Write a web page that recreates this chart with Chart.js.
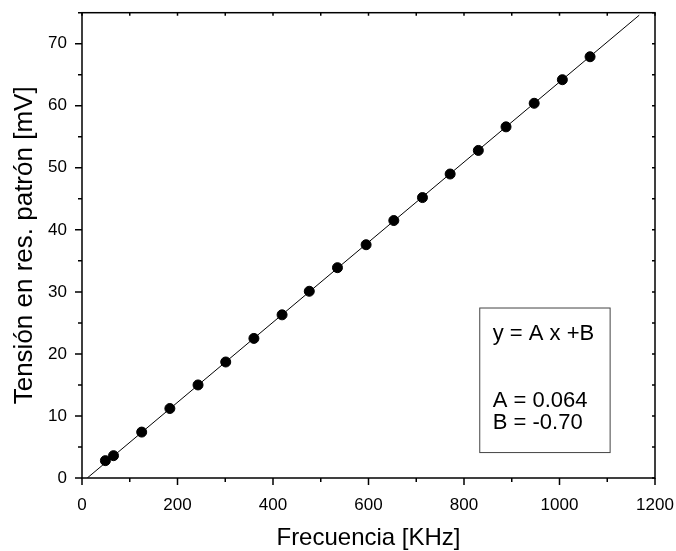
<!DOCTYPE html>
<html>
<head>
<meta charset="utf-8">
<script src="https://cdn.jsdelivr.net/npm/chart.js@4/dist/chart.umd.min.js"></script>
<style>
  body { margin: 0; background: #fff; }
  #wrap { width: 676px; height: 551px; position: relative; }
</style>
</head>
<body>
<div id="wrap"><canvas id="grafico"></canvas></div>
<script>
// Datos
const frecuencia = [49, 66, 125, 184, 243, 301, 360, 419, 476, 535, 595, 653, 713, 771, 830, 888, 947, 1006, 1064];
const tension = [2.8, 3.6, 7.4, 11.2, 15.0, 18.7, 22.5, 26.3, 30.1, 33.9, 37.6, 41.5, 45.2, 49.0, 52.8, 56.6, 60.4, 64.2, 67.9];
// recta de ajuste (extremos)
const ajusteX = [11, 1167];
const ajusteY = [0, 74.6];
// ticks
const xTicks = [0, 200, 400, 600, 800, 1000, 1200];
const yTicks = [0, 10, 20, 30, 40, 50, 60, 70];
const cuadroTexto = ['y = A x +B', '', 'A = 0.064', 'B = -0.70'];

const fuente = "'Liberation Sans', Arial, sans-serif";
Chart.defaults.color = '#000';
Chart.defaults.font.family = fuente;

// marco de ejes y marcas menores/mayores
const marco = {
  id: 'marco',
  afterDraw(chart) {
    const {ctx, chartArea: a, scales: {x, y}} = chart;
    ctx.save();
    ctx.strokeStyle = '#000';
    ctx.lineWidth = 1.5;
    ctx.strokeRect(a.left, a.top, a.right - a.left, a.bottom - a.top);
    ctx.beginPath();
    for (let v = 0; v <= 1200; v += 100) {
      const px = x.getPixelForValue(v);
      const len = v % 200 === 0 ? 7 : 4;
      ctx.moveTo(px, a.bottom); ctx.lineTo(px, a.bottom + len);
      ctx.moveTo(px, a.top); ctx.lineTo(px, a.top + 3);
    }
    for (let v = 0; v <= 75; v += 5) {
      const py = y.getPixelForValue(v);
      const len = v % 10 === 0 ? 7 : 4;
      ctx.moveTo(a.left, py); ctx.lineTo(a.left - len, py);
      ctx.moveTo(a.right, py); ctx.lineTo(a.right - 3, py);
    }
    ctx.stroke();

    // cuadro con la ecuacion
    const bx0 = x.getPixelForValue(833), bx1 = x.getPixelForValue(1106);
    const by0 = y.getPixelForValue(27.4), by1 = y.getPixelForValue(4.1);
    ctx.lineWidth = 1;
    ctx.strokeStyle = '#444';
    ctx.strokeRect(bx0, by0, bx1 - bx0, by1 - by0);
    ctx.fillStyle = '#000';
    ctx.font = '22px ' + fuente;
    ctx.textBaseline = 'alphabetic';
    const bases = [32, 0, 99, 121];
    cuadroTexto.forEach((t, i) => {
      if (t) ctx.fillText(t, bx0 + 13, by0 + bases[i]);
    });
    ctx.restore();
  }
};

new Chart(document.getElementById('grafico'), {
  type: 'scatter',
  data: {
    datasets: [{
      data: frecuencia.map((f, i) => ({x: f, y: tension[i]})),
      backgroundColor: '#000',
      borderColor: '#000',
      pointRadius: 5,
      pointHoverRadius: 5,
      order: 1
    }, {
      data: ajusteX.map((f, i) => ({x: f, y: ajusteY[i]})),
      showLine: true,
      borderColor: '#000',
      borderWidth: 1,
      pointRadius: 0,
      order: 2
    }]
  },
  options: {
    responsive: true,
    maintainAspectRatio: false,
    animation: false,
    events: [],
    layout: {padding: {top: 12.7, right: 21, left: 0, bottom: 0}},
    plugins: {legend: {display: false}, tooltip: {enabled: false}},
    scales: {
      x: {
        type: 'linear',
        min: 0, max: 1200,
        afterBuildTicks: s => { s.ticks = xTicks.map(v => ({value: v})); },
        afterFit: s => { s.height = 73; s.paddingLeft = 0; s.paddingRight = 0; },
        grid: {display: false, drawTicks: false},
        border: {display: false},
        ticks: {font: {size: 17}, padding: 17, maxRotation: 0, autoSkip: false, callback: v => String(v)},
        title: {display: true, text: 'Frecuencia [KHz]', font: {size: 24}, padding: {top: 0, bottom: -2}}
      },
      y: {
        type: 'linear',
        min: 0, max: 75,
        afterBuildTicks: s => { s.ticks = yTicks.map(v => ({value: v})); },
        afterFit: s => { s.width = 82; s.paddingTop = 0; s.paddingBottom = 0; },
        grid: {display: false, drawTicks: false},
        border: {display: false},
        ticks: {font: {size: 17}, padding: 15, autoSkip: false, callback: v => String(v)},
        title: {display: true, text: 'Tensión en res. patrón [mV]', font: {size: 26}, padding: {top: 9, bottom: 0}}
      }
    }
  },
  plugins: [marco]
});
</script>
</body>
</html>
